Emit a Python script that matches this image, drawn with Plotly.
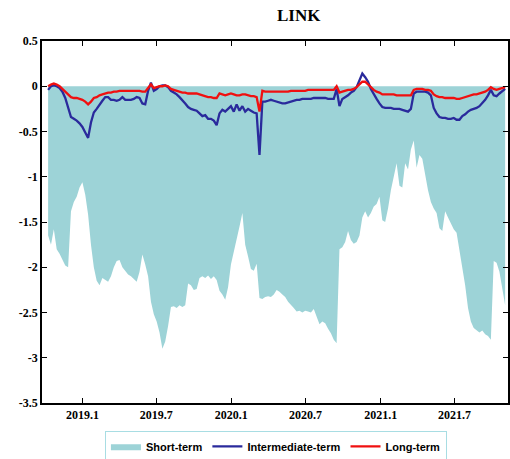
import pandas as pd
import plotly.graph_objects as go

start_date = "2018-10-09"

short_term = [
    -1.65, -1.75, -1.58, -1.80, -1.85, -1.92, -1.98, -2.00, -1.38, -1.28,
    -1.22, -1.12, -1.06, -1.20, -1.42, -1.75, -2.00, -2.15, -2.20, -2.12,
    -2.14, -2.16, -2.10, -2.00, -1.93, -1.92, -2.00, -2.04, -2.08, -2.10,
    -2.13, -2.16, -2.05, -1.86, -1.97, -2.10, -2.38, -2.52, -2.60, -2.72,
    -2.90, -2.82, -2.65, -2.44, -2.43, -2.45, -2.42, -2.44, -2.42, -2.18,
    -2.20, -2.25, -2.24, -2.12, -2.10, -2.12, -2.09, -2.13, -2.10, -2.14,
    -2.26, -2.30, -2.36, -2.22, -1.97, -1.83, -1.72, -1.55, -1.40, -1.75,
    -1.88, -2.02, -2.04, -1.96, -2.34, -2.35, -2.33, -2.32, -2.33, -2.30,
    -2.25, -2.27, -2.30, -2.33, -2.38, -2.41, -2.45, -2.49, -2.48, -2.50,
    -2.48, -2.49, -2.50, -2.46, -2.55, -2.63, -2.60, -2.62, -2.68, -2.73,
    -2.80, -2.84, -1.80, -1.78, -1.72, -1.60, -1.70, -1.74, -1.72, -1.65,
    -1.45, -1.38, -1.45, -1.40, -1.33, -1.30, -1.22, -1.48, -1.50, -1.35,
    -1.15, -1.00, -0.85, -1.10, -1.12, -0.85, -0.92, -0.70, -0.60, -0.90,
    -0.76, -0.80, -1.00, -1.15, -1.28, -1.35, -1.40, -1.57, -1.60, -1.38,
    -1.45, -1.52, -1.58, -1.62, -1.80, -2.00, -2.20, -2.45, -2.60, -2.67,
    -2.70, -2.72, -2.70, -2.74, -2.76, -2.80, -1.93, -1.95, -2.05, -2.25,
    -2.42,
]

intermediate_term = [
    -0.04, 0.00, 0.01, 0.00, -0.02, -0.06, -0.13, -0.25, -0.34, -0.36,
    -0.38, -0.41, -0.45, -0.51, -0.57, -0.40, -0.29, -0.25, -0.20, -0.16,
    -0.12, -0.12, -0.15, -0.15, -0.16, -0.15, -0.12, -0.15, -0.15, -0.15,
    -0.14, -0.12, -0.13, -0.19, -0.20, -0.05, 0.04, -0.05, -0.03, 0.00,
    0.01, 0.01, -0.01, -0.05, -0.07, -0.09, -0.12, -0.15, -0.19, -0.23,
    -0.25, -0.26, -0.27, -0.30, -0.33, -0.32, -0.36, -0.36, -0.38, -0.43,
    -0.30, -0.26, -0.28, -0.25, -0.22, -0.28, -0.20, -0.27, -0.22, -0.28,
    -0.25, -0.27, -0.29, -0.30, -0.76, -0.17, -0.17, -0.16, -0.15, -0.16,
    -0.17, -0.18, -0.19, -0.19, -0.18, -0.17, -0.16, -0.15, -0.15, -0.14,
    -0.14, -0.14, -0.14, -0.13, -0.13, -0.13, -0.13, -0.13, -0.14, -0.14,
    -0.14, -0.03, -0.22, -0.14, -0.12, -0.10, -0.07, -0.05, -0.01, 0.06,
    0.14, 0.10, 0.05, -0.03, -0.09, -0.14, -0.19, -0.23, -0.24, -0.24,
    -0.24, -0.25, -0.25, -0.25, -0.26, -0.27, -0.28, -0.25, -0.08, -0.06,
    -0.06, -0.06, -0.06, -0.07, -0.10, -0.24, -0.30, -0.34, -0.35, -0.35,
    -0.36, -0.36, -0.35, -0.37, -0.37, -0.33, -0.31, -0.28, -0.26, -0.25,
    -0.24, -0.22, -0.19, -0.15, -0.10, -0.04, -0.10, -0.11, -0.08, -0.05,
    -0.03,
]

long_term = [
    0.00, 0.02, 0.03, 0.02, 0.00, -0.03, -0.07, -0.10, -0.12, -0.13,
    -0.13, -0.14, -0.15, -0.17, -0.20, -0.17, -0.13, -0.12, -0.10, -0.09,
    -0.08, -0.07, -0.07, -0.06, -0.06, -0.05, -0.05, -0.05, -0.05, -0.05,
    -0.05, -0.05, -0.05, -0.06, -0.06, -0.02, 0.02, -0.02, -0.01, 0.00,
    0.00, 0.01, 0.00, -0.03, -0.04, -0.05, -0.06, -0.07, -0.07, -0.08,
    -0.08, -0.08, -0.08, -0.09, -0.10, -0.11, -0.12, -0.12, -0.13, -0.13,
    -0.08, -0.09, -0.10, -0.09, -0.08, -0.09, -0.10, -0.10, -0.09, -0.09,
    -0.10, -0.11, -0.11, -0.12, -0.28, -0.05, -0.06, -0.06, -0.06, -0.06,
    -0.06, -0.06, -0.06, -0.06, -0.06, -0.05, -0.05, -0.05, -0.05, -0.05,
    -0.05, -0.04, -0.04, -0.04, -0.04, -0.04, -0.04, -0.04, -0.04, -0.04,
    -0.04, 0.00, -0.07, -0.06, -0.05, -0.04, -0.04, -0.03, -0.01, 0.02,
    0.05, 0.05, 0.02, -0.02, -0.04, -0.06, -0.07, -0.09, -0.09, -0.09,
    -0.09, -0.09, -0.10, -0.10, -0.10, -0.10, -0.10, -0.10, -0.04, -0.03,
    -0.03, -0.03, -0.04, -0.04, -0.05, -0.09, -0.11, -0.12, -0.12, -0.13,
    -0.13, -0.13, -0.13, -0.14, -0.14, -0.13, -0.12, -0.11, -0.10, -0.09,
    -0.09, -0.08, -0.07, -0.06, -0.04, -0.01, -0.03, -0.04, -0.03, -0.02,
    -0.01,
]

tick_dates = ["2019-01-01", "2019-07-01", "2020-01-01", "2020-07-01", "2021-01-01", "2021-07-01"]
tick_labels = ["2019.1", "2019.7", "2020.1", "2020.7", "2021.1", "2021.7"]
y_ticks = [0.5, 0, -0.5, -1, -1.5, -2, -2.5, -3, -3.5]
y_labels = ["0.5", "0", "-0.5", "-1", "-1.5", "-2", "-2.5", "-3", "-3.5"]

dates = pd.date_range(start_date, periods=len(short_term), freq="7D")

fig = go.Figure()
fig.add_trace(go.Scatter(
    x=dates, y=short_term, name="Short-term", mode="lines",
    fill="tozeroy", fillcolor="#9dd3d7", line=dict(width=0, color="#9dd3d7"),
))
fig.add_trace(go.Scatter(
    x=dates, y=intermediate_term, name="Intermediate-term", mode="lines",
    line=dict(width=2.3, color="#2a2a9c"),
))
fig.add_trace(go.Scatter(
    x=dates, y=long_term, name="Long-term", mode="lines",
    line=dict(width=2.3, color="#f01010"),
))

serif = "Liberation Serif"
fig.update_layout(
    width=510, height=459,
    margin=dict(l=42, r=2, t=41, b=56, autoexpand=False),
    paper_bgcolor="white", plot_bgcolor="white",
    title=dict(text="LINK", x=0.551, xref="paper", y=1 - 15 / 459, yanchor="middle",
               xanchor="center", font=dict(family=serif, size=17, color="black", weight="bold")),
    showlegend=True,
    legend=dict(orientation="h", x=0.502, xanchor="center", y=-0.077, yanchor="top",
                bordercolor="#a8dde3", borderwidth=1, bgcolor="white",
                font=dict(family="Liberation Sans", size=11, color="black", weight="bold"),
                itemwidth=30, tracegroupgap=0),
    xaxis=dict(
        type="date", range=["2018-09-24", "2021-11-09"],
        tickvals=tick_dates, ticktext=tick_labels,
        ticks="inside", ticklen=5, tickwidth=1.2, tickcolor="black",
        showline=True, linecolor="black", linewidth=1.5, mirror="ticks",
        showgrid=False, zeroline=False,
        tickfont=dict(family=serif, size=12, color="black", weight="bold"),
    ),
    yaxis=dict(
        range=[-3.5, 0.5], tickvals=y_ticks, ticktext=y_labels,
        ticks="inside", ticklen=5, tickwidth=1.2, tickcolor="black",
        showline=True, linecolor="black", linewidth=1.5, mirror="ticks",
        showgrid=False, zeroline=False,
        tickfont=dict(family=serif, size=12, color="black", weight="bold"),
    ),
)

fig.write_html("out.html")
